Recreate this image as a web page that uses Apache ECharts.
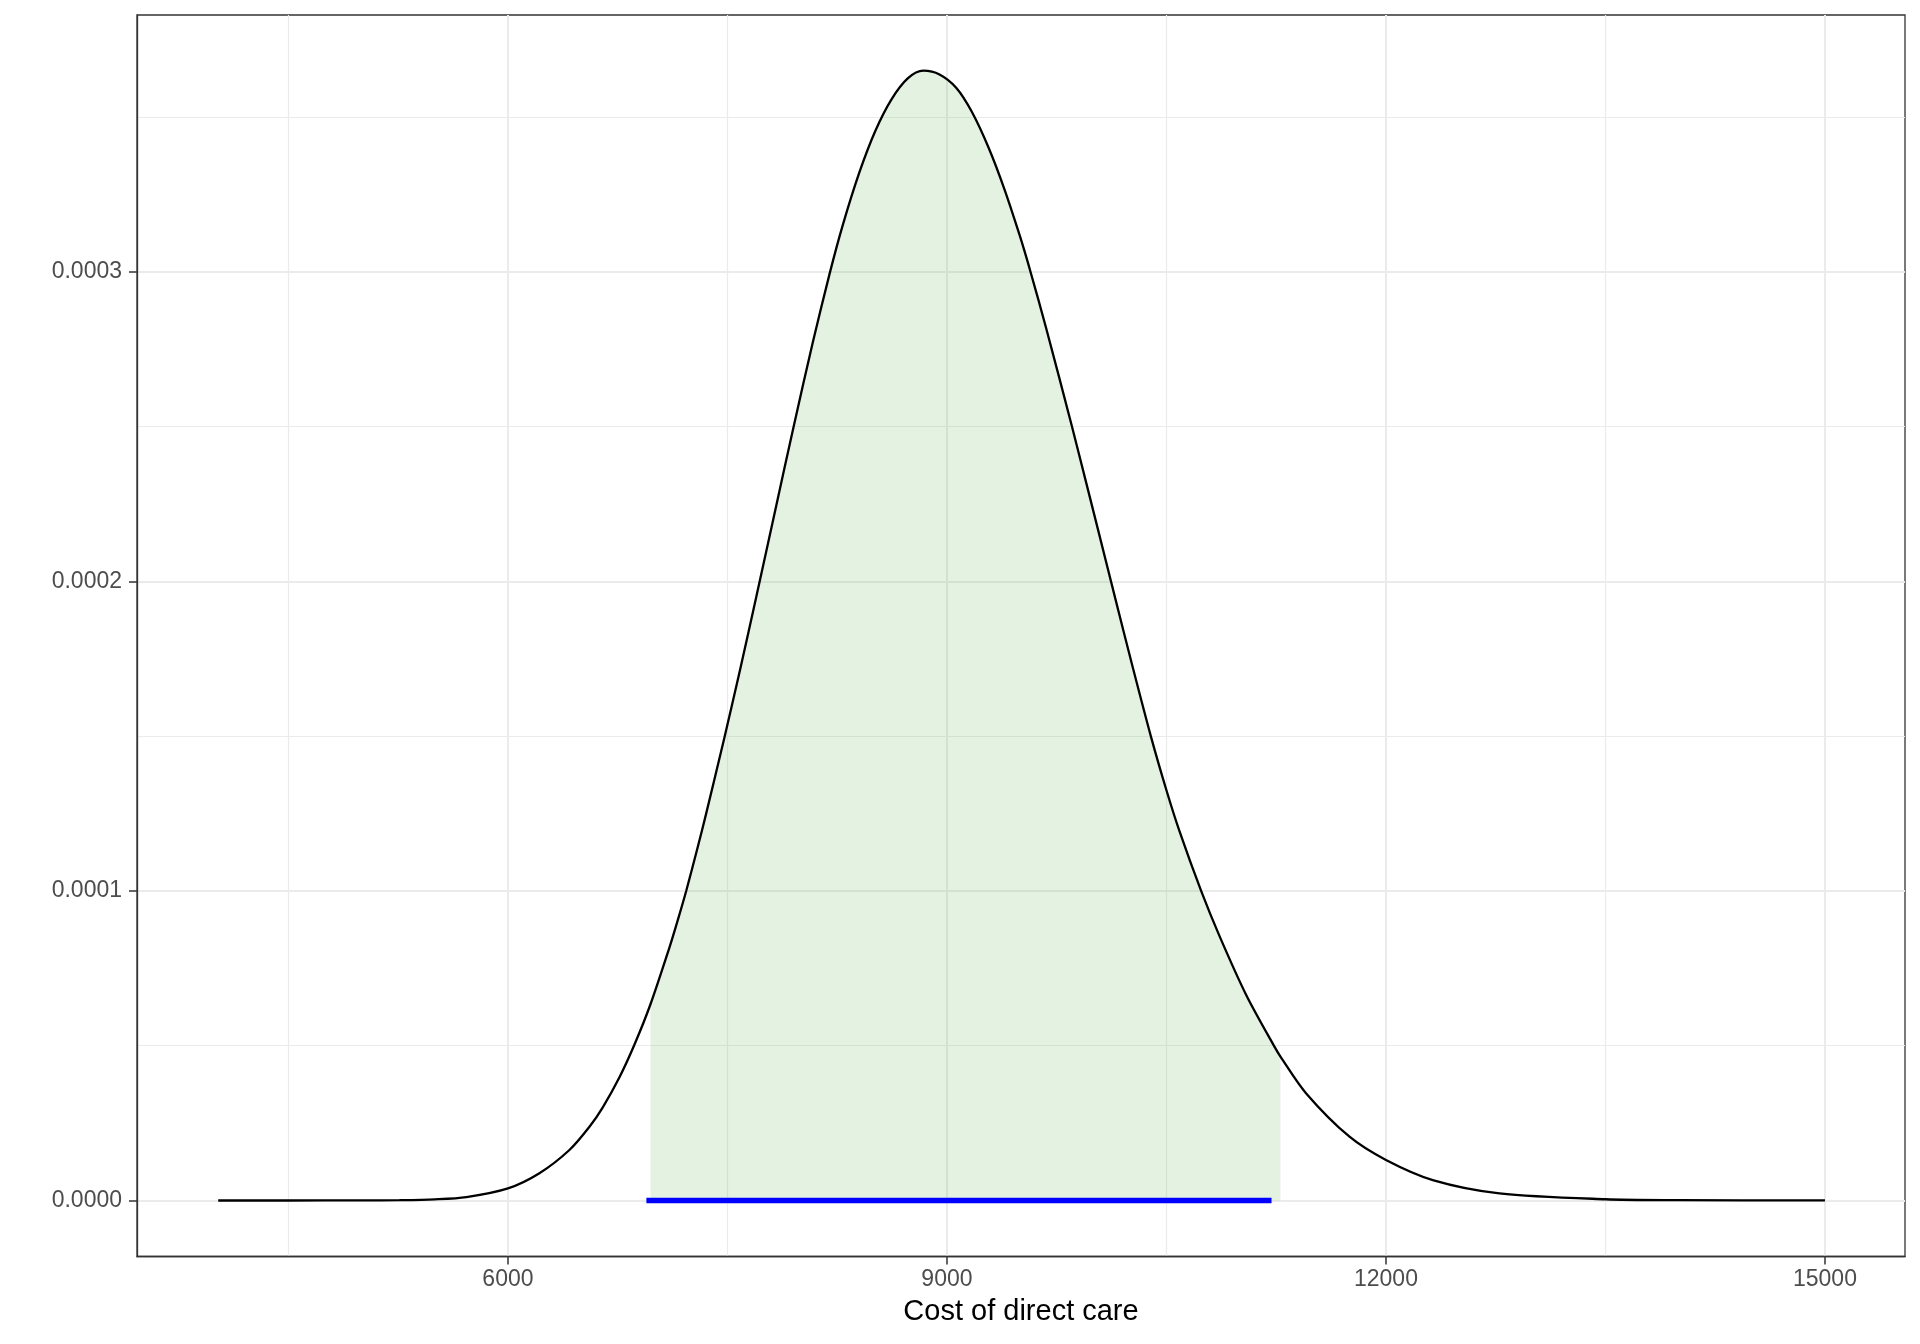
<!DOCTYPE html>
<html>
<head>
<meta charset="utf-8">
<script src="https://cdn.jsdelivr.net/npm/echarts@6/dist/echarts.min.js"></script>
<style>
  html, body { margin: 0; padding: 0; background: #fff; }
  #chart { width: 1920px; height: 1344px; }
</style>
</head>
<body>
<div id="chart"></div>
<script>
// density curve
var costX = [4020, 4500, 5000, 5259, 5500, 5716, 6000, 6215, 6420, 6557, 6648, 6762, 6864,
  6974, 7104, 7160, 7218, 7297, 7354, 7479, 7582, 7696, 7833, 7946, 8083, 8197, 8288, 8402,
  8511, 8619, 8732, 8839, 8949, 9063, 9169, 9284, 9393, 9495, 9564, 9678, 9849, 9951,
  10110, 10145, 10270, 10395, 10502, 10589, 10737, 10862, 11045, 11238, 11279, 11455,
  11751, 12000, 12320, 12776, 13500, 14000, 15000];
var density = [0, 0, 0.00000002, 0.0000001, 0.00000037, 0.0000011, 0.0000039, 0.0000088,
  0.0000163, 0.0000238, 0.0000301, 0.0000398, 0.0000503,
  0.0000634, 0.0000818, 0.0000905, 0.0001000, 0.0001142, 0.0001249, 0.0001495, 0.0001706,
  0.0001948, 0.0002244, 0.0002487, 0.0002772, 0.0002992, 0.0003151, 0.0003322,
  0.0003456, 0.0003556, 0.0003625, 0.0003650, 0.0003638, 0.0003595, 0.0003518, 0.0003402,
  0.0003267, 0.0003121, 0.0003012, 0.0002818, 0.0002510, 0.0002320,
  0.0002021, 0.0001955, 0.0001722, 0.0001497, 0.0001322, 0.0001193, 0.0001000, 0.0000855,
  0.0000664, 0.0000497, 0.0000465, 0.0000346,
  0.0000206, 0.0000131, 0.0000066, 0.0000023, 0.0000004, 0.00000012, 0.00000001];

// shaded region and interval bar
var shadeFrom = 6974, shadeTo = 11279;
var intervalX = [6946, 11218];

var xTicks = [6000, 9000, 12000, 15000];
var xMinor = [4500, 7500, 10500, 13500];
var yTicks = [0, 0.0001, 0.0002, 0.0003];
var yMinor = [0.00005, 0.00015, 0.00025, 0.00035];

var curve = costX.map(function (x, i) { return [x, density[i]]; });
var shade = curve.filter(function (p) { return p[0] >= shadeFrom && p[0] <= shadeTo; });
var bar = intervalX.map(function (x) { return [x, 0]; });

var font = 'Liberation Sans, Arial, sans-serif';
var grid = '#ebebeb';
var dark = '#333333';

var chart = echarts.init(document.getElementById('chart'));
chart.setOption({
  animation: false,
  backgroundColor: '#ffffff',
  grid: {
    left: 137, right: 15, top: 15, bottom: 87.5,
    show: true, borderColor: dark, borderWidth: 1.3, backgroundColor: 'transparent'
  },
  xAxis: [{
    type: 'value', min: 3465, max: 15547, position: 'bottom',
    axisLine: { show: true, onZero: false, lineStyle: { color: dark, width: 1.3 } },
    axisTick: { show: true, customValues: xTicks, length: 8, lineStyle: { color: dark, width: 1.5 } },
    axisLabel: {
      customValues: xTicks, margin: 12, color: '#4d4d4d', fontSize: 23, fontFamily: font,
      formatter: function (v) { return String(v); }
    },
    splitLine: { show: true, lineStyle: { color: grid, width: 2 } },
    name: 'Cost of direct care', nameLocation: 'middle', nameGap: 41,
    nameTextStyle: { color: '#000', fontSize: 29, fontFamily: font }
  }, {
    type: 'value', min: 3465, max: 15547, position: 'top',
    axisLine: { show: false, onZero: false },
    axisTick: { show: false, customValues: xMinor },
    axisLabel: { show: false },
    splitLine: { show: true, lineStyle: { color: grid, width: 1.2 } }
  }],
  yAxis: [{
    type: 'value', min: -0.0000181, max: 0.000383, position: 'left',
    axisLine: { show: true, onZero: false, lineStyle: { color: dark, width: 1.3 } },
    axisTick: { show: true, customValues: yTicks, length: 8, lineStyle: { color: dark, width: 1.5 } },
    axisLabel: {
      customValues: yTicks, margin: 15, color: '#4d4d4d', fontSize: 23, fontFamily: font,
      formatter: function (v) { return v.toFixed(4); }
    },
    splitLine: { show: true, lineStyle: { color: grid, width: 2 } }
  }, {
    type: 'value', min: -0.0000181, max: 0.000383, position: 'right',
    axisLine: { show: false, onZero: false },
    axisTick: { show: false, customValues: yMinor },
    axisLabel: { show: false },
    splitLine: { show: true, lineStyle: { color: grid, width: 1.2 } }
  }],
  series: [{
    type: 'line', data: shade, showSymbol: false, z: 1, smooth: 0.3,
    lineStyle: { width: 0 },
    areaStyle: { color: 'rgba(100,185,90,0.18)', opacity: 1 }
  }, {
    type: 'line', data: curve, showSymbol: false, z: 2, smooth: 0.3,
    lineStyle: { color: '#000', width: 2.3 }
  }, {
    type: 'line', data: bar, showSymbol: false, z: 3,
    lineStyle: { color: '#0000ff', width: 5.5, cap: 'butt' }
  }]
});
</script>
</body>
</html>
